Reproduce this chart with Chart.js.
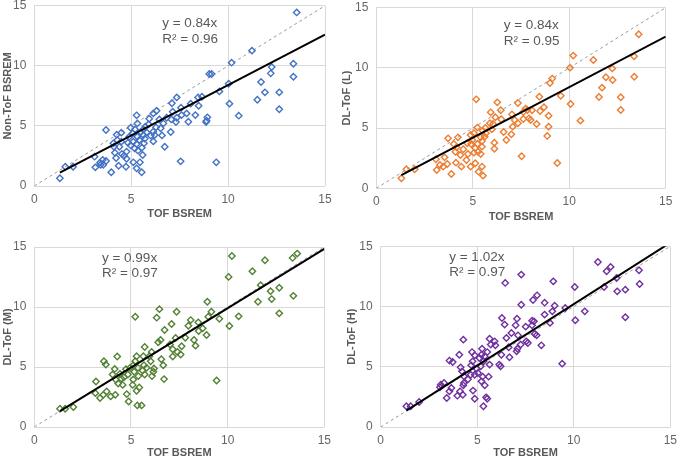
<!DOCTYPE html>
<html>
<head>
<meta charset="utf-8">
<script src="https://cdn.jsdelivr.net/npm/chart.js@4.4.1/dist/chart.umd.min.js"></script>
<style>
  html, body { margin: 0; padding: 0; background: #fff; }
  body { width: 677px; height: 461px; position: relative; overflow: hidden; }
  canvas { position: absolute; }
</style>
</head>
<body>
<canvas id="c1"></canvas>
<canvas id="c2"></canvas>
<canvas id="c3"></canvas>
<canvas id="c4"></canvas>
<script>
// axis ticks shared by all four panels
const tickVals = [0, 5, 10, 15];
const xTitle = "TOF BSREM";
const yTitles = ["Non-ToF BSREM", "DL-ToF (L)", "DL-ToF (M)", "DL-ToF (H)"];
const slopes = [0.84, 0.84, 0.99, 1.02];
const rSquared = [0.96, 0.95, 0.97, 0.97];

// panel 1: Non-ToF BSREM vs TOF BSREM
const xNonTof = [1.32,1.6,2.0,13.54,11.23,10.18,9.03,9.15,10.03,12.25,
  13.37,13.37,12.2,11.7,11.9,12.64,11.51,12.64,10.07,10.55,
  9.55,8.65,8.45,8.48,8.07,8.31,8.93,8.89,8.86,9.39,
  7.55,7.35,7.1,7.57,7.14,7.6,7.86,7.95,7.35,7.07,
  6.83,7.31,7.04,6.59,6.73,6.31,6.14,6.45,6.66,6.52,
  6.28,6.14,6.21,6.14,5.93,5.9,5.73,5.63,5.63,5.7,
  5.66,5.55,5.59,5.54,5.45,5.28,5.28,5.32,5.2,5.08,
  5.32,5.42,5.11,5.28,5.18,5.35,4.97,4.9,4.83,4.97,
  4.76,4.76,5.11,4.73,4.63,4.49,4.39,4.52,4.28,4.25,
  4.35,4.22,4.16,4.11,4.08,3.97,3.7,3.7,3.56,3.53,
  3.39,3.42,3.15,3.11,6.01,5.8,5.49,4.49];
const yNonTof = [0.64,1.6,1.6,14.44,11.26,10.26,9.32,9.32,8.51,9.9,
  10.17,9.09,9.37,8.65,7.79,7.79,7.18,6.38,6.85,5.85,
  7.87,7.43,7.37,6.68,6.85,5.9,5.71,5.43,5.32,1.97,
  2.05,7.37,6.88,6.51,6.18,5.9,6.04,5.35,5.68,5.54,
  5.68,5.32,4.49,4.21,3.27,6.26,6.04,5.54,5.21,4.8,
  4.88,4.52,4.24,3.71,5.6,5.13,4.93,4.71,4.24,3.94,
  3.55,3.19,2.58,1.14,1.97,1.47,5.88,5.21,4.71,4.38,
  4.1,3.83,3.69,3.49,3.13,2.94,4.85,4.1,3.6,3.38,
  2.86,2.27,1.97,1.6,2.52,3.69,3.27,2.66,3.83,4.27,
  1.69,2.33,2.77,3.27,3.55,1.14,4.66,2.08,1.77,2.16,
  1.94,1.77,1.55,2.44,4.19,4.46,4.49,4.44];

// panel 2: DL-ToF (L)
const xDlL = [1.3,1.56,1.99,13.6,10.21,10.04,11.25,9.12,9.0,12.23,
  13.36,13.37,12.25,11.9,11.7,11.54,12.67,12.67,9.56,10.07,
  10.58,8.45,8.69,8.49,8.07,8.31,8.93,8.93,8.86,9.38,
  7.53,7.34,7.03,7.62,7.74,7.83,7.62,7.91,8.0,7.34,
  7.17,7.07,7.0,6.6,6.74,6.27,5.93,6.45,6.48,6.17,
  6.05,5.99,6.12,6.12,5.89,5.65,5.51,5.41,5.62,5.48,
  5.48,5.41,5.48,5.53,5.3,5.18,5.24,5.06,4.98,5.24,
  5.13,5.06,5.27,4.92,5.13,4.89,4.75,4.72,4.67,4.51,
  4.41,4.36,4.23,4.13,4.1,4.02,3.89,3.72,3.68,3.54,
  3.47,3.3,3.13,3.09,4.89,5.68,4.16];
const yDlL = [0.83,1.58,1.58,12.79,11.02,10.02,10.66,9.11,8.75,9.96,
  10.96,9.27,9.0,9.22,8.36,7.58,7.56,6.5,7.69,7.0,
  5.62,7.61,6.73,6.42,6.48,5.34,6.03,5.12,4.35,2.1,
  2.66,7.09,6.14,6.34,6.62,6.5,5.76,5.81,5.67,5.4,
  5.67,5.12,4.48,4.68,4.01,7.14,6.31,6.48,5.73,5.9,
  5.34,4.9,3.79,3.29,5.4,5.01,4.79,4.23,4.29,3.93,
  3.46,2.85,1.8,1.05,1.38,7.39,5.04,4.57,4.01,3.68,
  3.35,2.96,3.04,3.68,2.08,1.8,2.85,3.74,2.35,3.24,
  1.8,2.77,4.23,2.13,3.04,3.68,1.19,4.15,2.02,2.57,
  1.8,1.94,1.52,2.41,4.43,4.57,3.4];

// panel 3: DL-ToF (M)
const xDlM = [1.33,1.6,2.02,13.6,13.36,10.22,11.93,11.28,10.05,11.71,
  12.22,12.67,12.28,11.57,13.4,12.67,10.57,10.09,9.57,8.95,
  9.16,9.0,8.91,8.71,8.48,8.5,8.09,7.97,8.26,8.34,
  7.81,7.36,6.47,6.33,5.22,7.1,6.74,6.53,6.41,7.02,
  7.31,7.16,7.16,7.4,7.62,7.57,9.43,6.57,6.67,6.71,
  6.19,6.07,5.95,6.02,6.16,6.09,5.71,5.64,5.67,5.6,
  5.71,5.55,5.33,5.43,5.29,5.22,5.12,5.36,5.17,5.38,
  5.12,5.29,5.09,4.95,4.84,4.74,4.64,4.57,4.78,4.88,
  4.43,4.29,4.34,4.22,4.19,4.16,4.05,3.95,3.7,3.6,
  3.74,3.57,3.4,3.19,3.16,4.5,5.81];
const yDlM = [1.52,1.52,1.66,14.45,14.09,14.25,13.9,12.98,12.51,11.82,
  11.32,11.6,10.66,10.44,10.93,9.47,9.22,8.42,9.02,10.44,
  9.6,9.19,7.67,8.22,8.72,8.0,8.91,8.44,7.25,6.78,
  7.44,9.6,9.82,9.11,9.19,8.58,8.08,7.25,7.06,6.87,
  7.42,6.48,5.87,6.25,6.73,6.04,3.87,5.65,5.15,3.99,
  4.87,6.25,5.9,5.48,4.6,4.24,6.67,5.9,5.15,4.71,
  4.37,1.8,1.8,3.29,5.9,5.48,5.15,4.93,4.6,4.24,
  3.96,3.02,3.51,4.93,4.37,4.82,4.15,3.51,2.74,2.13,
  4.43,5.87,3.62,3.93,2.68,4.84,4.37,2.55,5.2,5.48,
  2.96,2.68,2.41,3.79,2.82,4.04,4.93];

// panel 4: DL-ToF (H)
const xDlH = [1.33,1.55,1.99,11.25,11.91,11.7,12.22,13.38,13.41,11.57,
  12.25,12.67,12.67,10.05,10.57,10.08,9.56,8.94,9.01,8.89,
  8.77,8.49,8.49,8.1,7.89,7.28,6.45,7.28,7.94,7.84,
  7.98,8.08,7.84,7.51,7.06,6.99,7.11,7.54,7.62,7.25,
  7.08,7.04,8.32,9.4,6.77,6.28,6.42,6.51,6.63,6.67,
  6.25,6.14,6.21,5.9,5.7,5.94,5.64,5.52,5.64,5.59,
  5.39,5.33,5.25,5.22,5.11,4.97,5.18,5.04,5.28,5.22,
  5.39,5.46,5.52,5.32,4.87,4.76,4.69,4.73,4.87,4.66,
  4.78,4.87,4.28,4.07,4.14,4.21,4.31,4.31,4.28,4.11,
  4.25,3.97,3.56,3.73,3.66,3.56,3.42,3.28,3.11,3.07,
  4.52];
const yDlH = [1.72,1.72,2.08,13.7,13.29,12.93,12.37,13.01,11.87,11.62,
  11.26,11.4,9.11,11.62,9.6,8.86,9.88,12.09,10.07,9.6,
  8.64,10.32,9.33,10.93,10.54,12.65,11.96,10.15,8.77,8.44,
  7.72,7.61,8.83,8.33,8.99,8.44,7.61,7.11,6.97,6.84,
  6.5,6.28,6.78,5.26,7.8,9.05,8.5,7.39,6.62,5.79,
  6.0,5.18,5.04,7.11,6.84,6.78,7.33,6.22,5.18,4.18,
  5.87,5.45,6.5,6.0,5.73,4.84,5.04,4.48,4.18,3.79,
  3.46,2.46,2.35,1.72,5.95,5.45,5.12,6.22,4.34,4.34,
  3.02,2.35,7.25,6.0,4.95,4.62,4.21,3.65,3.46,2.96,
  2.68,2.6,5.51,5.4,3.24,2.96,2.41,3.65,3.51,3.29,
  3.96];

const xs = [xNonTof, xDlL, xDlM, xDlH];
const ys = [yNonTof, yDlL, yDlM, yDlH];

// layout of each panel (canvas box, plot area, label spots)
const panels = [
  { id: "c1", left: 0, top: 0, w: 338, h: 228, area: [34.3, 5.7, 325, 186], color: "#4472C4", xTitlePad: 6, yTitlePad: 0, eq: [6.6, 13.5, 12.2] },
  { id: "c2", left: 338, top: 0, w: 339, h: 228, area: [38.3, 7.7, 327.7, 188.3], color: "#ED7D31", xTitlePad: 3, yTitlePad: 1, eq: [6.6, 13.55, 12.2] },
  { id: "c3", left: 0, top: 228, w: 338, h: 233, area: [34.3, 19, 324.3, 427 - 228], color: "#548235", xTitlePad: 0, yTitlePad: 0, eq: [3.5, 14.1, 12.85] },
  { id: "c4", left: 338, top: 228, w: 339, h: 233, area: [42.7, 18.3, 332.3, 427 - 228], color: "#7030A0", xTitlePad: 0, yTitlePad: 6, eq: [3.55, 14.1, 12.85] },
];

const gray = "#595959";
Chart.defaults.font.family = '"Liberation Sans", Arial, sans-serif';

// writes the fit equation and R² inside the plot
const eqText = {
  id: "eqText",
  afterDatasetsDraw(chart, args, opts) {
    const ctx = chart.ctx;
    const sx = chart.scales.x, sy = chart.scales.y;
    ctx.save();
    ctx.fillStyle = gray;
    ctx.font = '13.5px "Liberation Sans", Arial, sans-serif';
    ctx.textAlign = "left";
    ctx.textBaseline = "middle";
    ctx.fillText(opts.line1, sx.getPixelForValue(opts.x), sy.getPixelForValue(opts.y1));
    ctx.fillText(opts.line2, sx.getPixelForValue(opts.x), sy.getPixelForValue(opts.y2));
    ctx.restore();
  },
};

panels.forEach((p, i) => {
  const cv = document.getElementById(p.id);
  cv.width = p.w;
  cv.height = p.h;
  cv.style.left = p.left + "px";
  cv.style.top = p.top + "px";
  cv.style.width = p.w + "px";
  cv.style.height = p.h + "px";

  const pts = xs[i].map((x, k) => ({ x: x, y: ys[i][k] }));
  const xMin = Math.min(...xs[i]);
  const xMax = tickVals[tickVals.length - 1];
  const trend = [
    { x: xMin, y: slopes[i] * xMin },
    { x: xMax, y: slopes[i] * xMax },
  ];
  const ident = [
    { x: tickVals[0], y: tickVals[0] },
    { x: xMax, y: xMax },
  ];

  new Chart(cv.getContext("2d"), {
    type: "scatter",
    data: {
      datasets: [
        {
          type: "line",
          data: trend,
          borderColor: "#000",
          borderWidth: 2,
          pointRadius: 0,
          fill: false,
          order: 0,
        },
        {
          data: pts,
          pointStyle: "rectRot",
          pointRadius: 3.2,
          borderColor: p.color,
          backgroundColor: "rgba(255,255,255,0)",
          borderWidth: 1.4,
          order: 1,
        },
        {
          type: "line",
          data: ident,
          borderColor: "#9a9a9a",
          borderWidth: 1,
          borderDash: [3, 3],
          pointRadius: 0,
          fill: false,
          order: 2,
        },
      ],
    },
    options: {
      responsive: false,
      animation: false,
      events: [],
      layout: {
        padding: { left: 0, bottom: 0, top: p.area[1], right: p.w - p.area[2] },
      },
      plugins: {
        legend: { display: false },
        tooltip: { enabled: false },
        eqText: {
          line1: "y = " + slopes[i].toFixed(2) + "x",
          line2: "R² = " + rSquared[i].toFixed(2),
          x: p.eq[0],
          y1: p.eq[1],
          y2: p.eq[2],
        },
      },
      scales: {
        x: {
          type: "linear",
          min: tickVals[0],
          max: xMax,
          afterBuildTicks: (s) => { s.ticks = tickVals.map((v) => ({ value: v })); },
          afterFit: (s) => {
            s.height = p.h - p.area[3];
            s.paddingLeft = 0;
            s.paddingRight = 0;
          },
          ticks: { color: "#666", font: { size: 12 }, padding: 6 },
          grid: { color: "#d9d9d9", drawTicks: false },
          border: { display: false },
          title: {
            display: true,
            text: xTitle,
            color: gray,
            font: { size: 11, weight: "bold" },
            padding: { top: 0, bottom: p.xTitlePad + 1 },
          },
        },
        y: {
          type: "linear",
          min: tickVals[0],
          max: xMax,
          afterBuildTicks: (s) => { s.ticks = tickVals.map((v) => ({ value: v })); },
          afterFit: (s) => {
            s.width = p.area[0];
            s.paddingTop = 0;
            s.paddingBottom = 0;
          },
          ticks: { color: "#666", font: { size: 12 }, padding: 8 },
          grid: { color: "#d9d9d9", drawTicks: false },
          border: { display: false },
          title: {
            display: true,
            text: yTitles[i],
            color: gray,
            font: { size: 11, weight: "bold" },
            padding: { top: p.yTitlePad + 1, bottom: 0 },
          },
        },
      },
    },
    plugins: [eqText],
  });
});
</script>
</body>
</html>
